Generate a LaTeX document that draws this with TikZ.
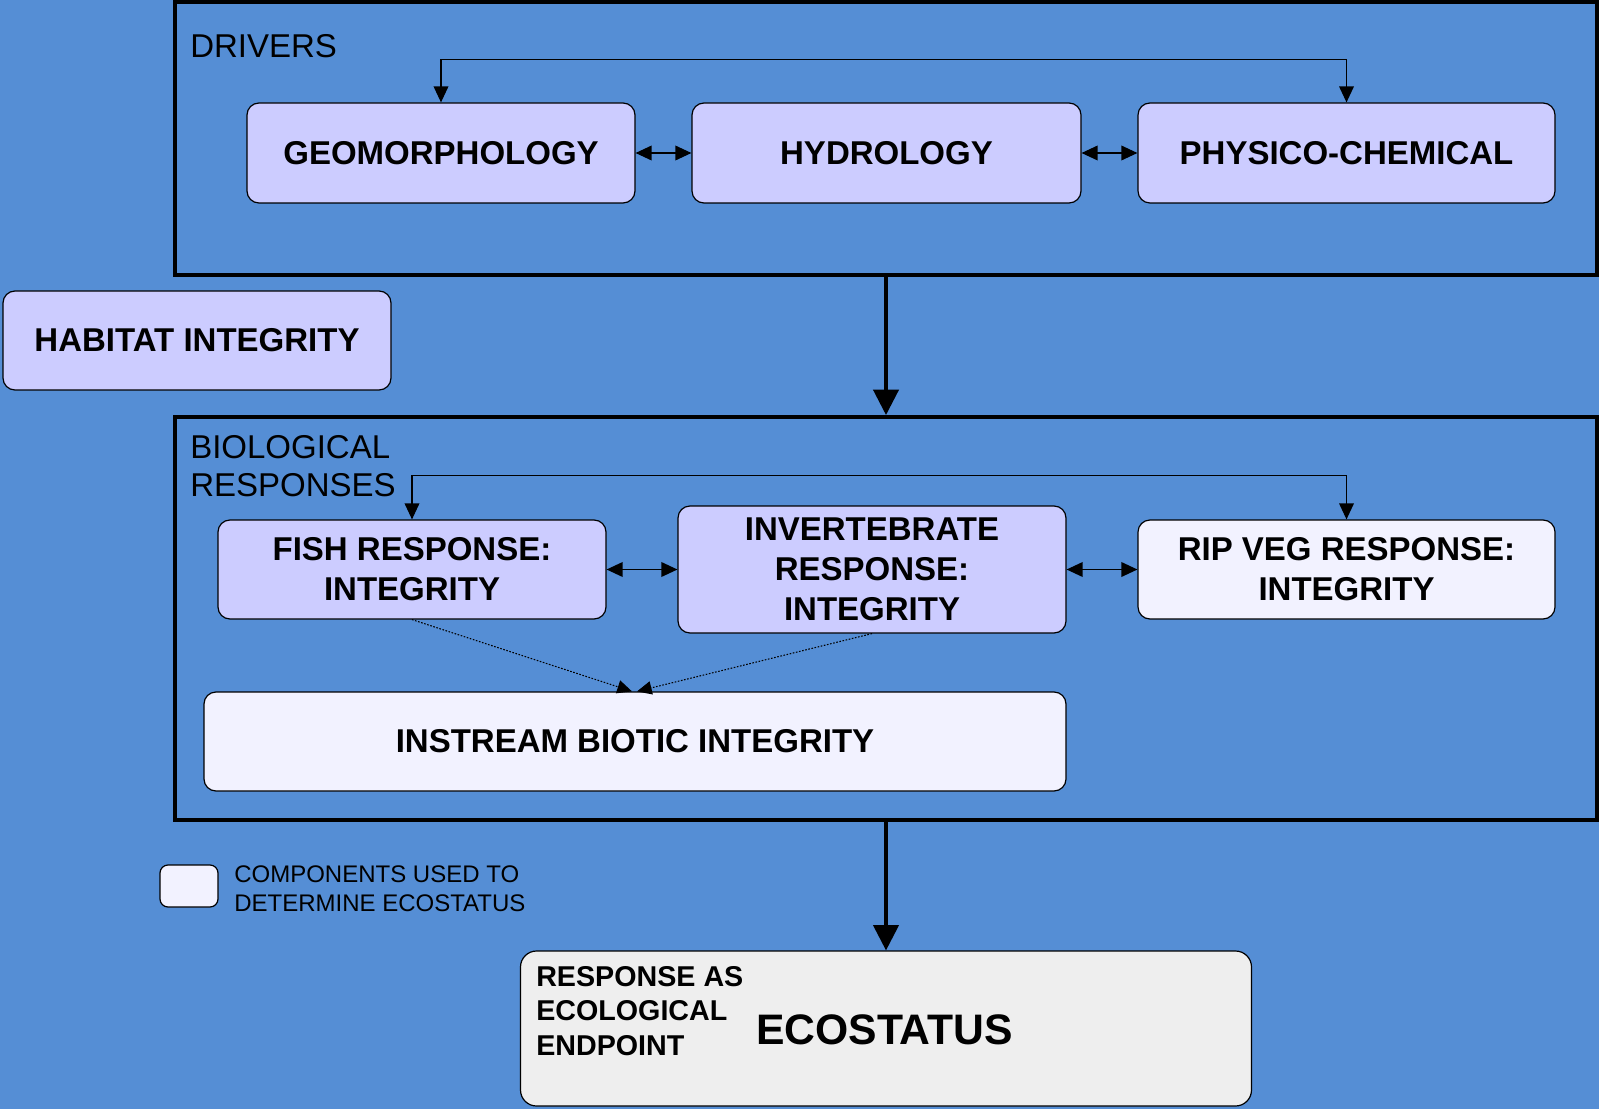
\documentclass[tikz,border=0pt]{standalone}
\usepackage{fontspec}
\setmainfont{Liberation Sans}
\usetikzlibrary{arrows.meta,calc}
\definecolor{bgblue}{RGB}{85,142,213}
\definecolor{lilac}{RGB}{204,204,255}
\definecolor{paleW}{RGB}{242,242,255}
\definecolor{ecogray}{RGB}{238,238,238}
\tikzset{
  frame/.style={draw=black, line width=3pt, inner sep=0pt},
  boxbase/.style={draw=black, line width=0.9pt, rounded corners=9pt, inner sep=0pt,
    align=center, font=\fontsize{24.75pt}{30pt}\selectfont\bfseries},
  drvbox/.style={boxbase, fill=lilac},
  usedbox/.style={boxbase, fill=paleW},
  lbl/.style={inner sep=0pt, align=left, anchor=west, font=\fontsize{24.75pt}{29pt}\selectfont},
  conn/.style={line width=1pt, {Triangle[length=12pt,width=11pt]}-{Triangle[length=12pt,width=11pt]}},
  bigarrow/.style={line width=2.3pt, -{Triangle[length=19pt,width=19pt]}},
  dotarrow/.style={line width=0.8pt, dash pattern=on 1.2pt off 1.2pt, -{Triangle[length=11pt,width=10pt]}},
}
\begin{document}
\begin{tikzpicture}[x=0.75pt, y=-0.75pt]
\fill[bgblue] (0,0) rectangle (1599,1109);
\useasboundingbox (0,0) rectangle (1599,1109);

% frames
\node[frame, minimum width={1422*0.75pt}, minimum height={273*0.75pt}] (drv) at (886,138.5) {};
\node[frame, minimum width={1422*0.75pt}, minimum height={403*0.75pt}] (bio) at (886,618.5) {};

% labels
\node[lbl] (drvlbl) at (190,46) {DRIVERS};
\node[lbl] (biolbl) at (190,466) {BIOLOGICAL\\RESPONSES};

% driver boxes
\node[drvbox, minimum width={388*0.75pt}, minimum height={100*0.75pt}] (geo) at (441,153) {GEOMORPHOLOGY};
\node[drvbox, minimum width={389*0.75pt}, minimum height={100*0.75pt}] (hyd) at (886.5,153) {HYDROLOGY};
\node[drvbox, minimum width={417*0.75pt}, minimum height={100*0.75pt}] (phy) at (1346.5,153) {PHYSICO-CHEMICAL};

\node[drvbox, minimum width={388*0.75pt}, minimum height={99*0.75pt}] (hab) at (197,340.5) {HABITAT INTEGRITY};

% biological boxes
\node[drvbox, minimum width={388*0.75pt}, minimum height={99*0.75pt}] (fish) at (412,569.5) {FISH RESPONSE:\\INTEGRITY};
\node[drvbox, minimum width={388*0.75pt}, minimum height={127*0.75pt}] (inv) at (872,569.5) {INVERTEBRATE\\RESPONSE:\\INTEGRITY};
\node[usedbox, minimum width={417*0.75pt}, minimum height={99*0.75pt}] (rip) at (1346.5,569.5) {RIP VEG RESPONSE:\\INTEGRITY};
\node[usedbox, minimum width={862*0.75pt}, minimum height={99*0.75pt}] (inst) at (635,741.5) {INSTREAM BIOTIC INTEGRITY};

% legend
\node[usedbox, minimum width={58*0.75pt}, minimum height={42*0.75pt}, rounded corners=6pt] (leg) at (189,886) {};
\node[inner sep=0pt, anchor=west, align=left, font=\fontsize{18pt}{21.4pt}\selectfont] (legtxt) at (234,888.5) {COMPONENTS USED TO\\DETERMINE ECOSTATUS};

% ecostatus
\node[draw=black, line width=0.9pt, fill=ecogray, rounded corners=12pt, minimum width={731*0.75pt}, minimum height={155*0.75pt}, inner sep=0pt] (eco) at (886,1028.5) {};
\node[inner sep=0pt, anchor=west, align=left, font=\fontsize{21.5pt}{26pt}\selectfont\bfseries] (resp) at (536,1011) {RESPONSE AS\\ECOLOGICAL\\ENDPOINT};
\node[inner sep=0pt, font=\fontsize{32pt}{36pt}\selectfont\bfseries] (ecot) at (884.5,1030) {ECOSTATUS};

% connectors
\draw[conn] (geo.north) -- ++(0,-43) -| (phy.north);
\draw[conn] (geo.east) -- (hyd.west);
\draw[conn] (hyd.east) -- (phy.west);
\draw[conn] (fish.north) -- ++(0,-44) -| (rip.north);
\draw[conn] (fish.east) -- (inv.west);
\draw[conn] (inv.east) -- (rip.west);
\draw[dotarrow] (fish.south) -- ($(inst.north)+(-3,0)$);
\draw[dotarrow] (inv.south) -- ($(inst.north)+(2,0)$);
\draw[bigarrow] (drv.south) -- (bio.north);
\draw[bigarrow] (bio.south) -- (eco.north);
\end{tikzpicture}
\end{document}
